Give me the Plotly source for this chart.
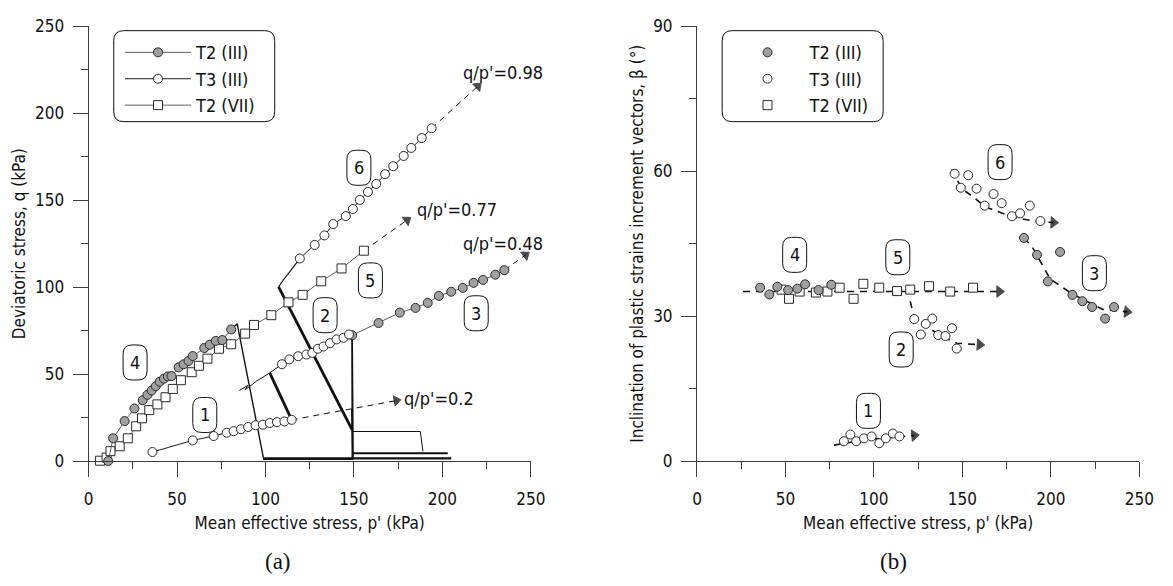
import plotly.graph_objects as go

# ---------------------------------------------------------------------------
# Panel (a): effective stress paths  p' (kPa)  vs  q (kPa)
# ---------------------------------------------------------------------------
# T2 (III) - stage 4 (grey dots)
t2iii_s4_p = [11.1, 13.9, 20.4, 25.9, 30.6, 33.3, 35.7, 38.0, 40.2, 42.6, 44.8,
              46.9, 50.9, 53.7, 56.5, 58.9, 65.4, 68.5, 71.9, 75.6, 80.6]
t2iii_s4_q = [0.0, 13.1, 23.0, 30.2, 35.0, 38.1, 40.6, 43.1, 45.6, 47.4, 48.7,
              48.9, 53.9, 55.7, 57.6, 60.4, 65.0, 66.9, 69.1, 69.6, 75.7]
# T2 (III) - unloading / transfer path between stages 4 and 3
t2iii_link_p = [80.6, 84.0, 99.0, 149.0, 149.0]
t2iii_link_q = [75.7, 79.0, 1.0, 1.0, 72.4]
# T2 (III) - stage 3
t2iii_s3_p = [149.0, 163.9, 175.9, 184.8, 191.7, 198.0, 205.0, 211.5, 217.6,
              223.0, 229.9, 235.0]
t2iii_s3_q = [72.4, 79.4, 85.4, 88.1, 91.0, 95.0, 97.4, 99.6, 102.5, 104.2,
              107.2, 109.8]

# T3 (III) - stage 1
t3iii_s1_p = [36.1, 58.9, 70.7, 78.1, 82.0, 86.1, 90.2, 94.4, 98.5, 102.4,
              106.5, 110.7, 114.8]
t3iii_s1_q = [5.2, 11.9, 14.4, 16.3, 17.2, 18.3, 19.6, 20.6, 20.9, 21.9, 22.4,
              22.8, 23.7]
# T3 (III) - stage 2
t3iii_s2_p = [109.3, 113.5, 118.5, 123.1, 126.5, 129.6, 132.8, 136.5, 140.2,
              144.1, 147.2]
t3iii_s2_q = [55.7, 58.5, 60.3, 61.3, 62.2, 64.6, 65.9, 67.8, 70.0, 70.9, 72.8]
# T3 (III) - stage 6
t3iii_s6_p = [119.4, 127.8, 133.3, 138.3, 145.4, 149.4, 153.3, 157.9, 162.6,
              167.6, 172.2, 178.1, 182.4, 188.3, 193.9]
t3iii_s6_q = [116.5, 124.3, 129.8, 136.3, 140.9, 145.0, 150.2, 154.8, 159.4,
              165.0, 169.6, 175.5, 180.1, 185.8, 191.4]
# T3 (III) - intermediate paths (no measurement markers)
t3iii_thick_a_p = [114.8, 102.4]
t3iii_thick_a_q = [23.7, 50.7]
t3iii_thin_a_p = [85.2, 90.0, 88.5, 95.0, 102.4, 109.3]
t3iii_thin_a_q = [40.6, 43.5, 41.0, 46.0, 50.7, 55.7]
t3iii_drop_p = [147.2, 149.0, 149.5, 148.8, 149.3]
t3iii_drop_q = [72.8, 70.0, 1.0, 30.0, 17.0]
t3iii_base1_p = [99.0, 205.0]
t3iii_base1_q = [1.5, 1.5]
t3iii_base2_p = [149.0, 203.0]
t3iii_base2_q = [4.5, 4.5]
t3iii_base3_p = [149.0, 187.5, 189.0]
t3iii_base3_q = [17.0, 17.0, 5.6]
t3iii_thick_b_p = [149.0, 107.4]
t3iii_thick_b_q = [18.0, 100.2]
t3iii_thin_b_p = [107.4, 110.0, 119.4]
t3iii_thin_b_q = [100.2, 104.0, 116.5]

# T2 (VII) - stages 4 and 5 (squares)
t2vii_p = [6.5, 10.2, 12.4, 17.6, 22.2, 26.9, 30.2, 34.3, 38.9, 43.5, 47.6,
           52.2, 58.3, 62.4, 67.2, 73.7, 80.6, 88.5, 93.5, 103.3, 113.0, 121.0,
           131.5, 143.0, 155.6]
t2vii_q = [0.2, 2.0, 5.7, 8.5, 13.1, 20.0, 24.6, 29.3, 32.6, 36.7, 41.5, 46.5,
           51.1, 54.8, 58.9, 64.6, 67.2, 73.3, 78.3, 83.9, 91.3, 95.6, 103.4,
           110.8, 121.0]

# Stress-ratio trend lines q/p' (arrow tip lies on q = ratio * p')
ratio_values = [0.98, 0.77, 0.48, 0.2]
ratio_labels = ["q/p'=0.98", "q/p'=0.77", "q/p'=0.48", "q/p'=0.2"]
ratio_start_p = [193.9, 155.6, 235.0, 114.8]
ratio_start_q = [191.4, 121.0, 109.8, 23.7]
ratio_tip_p = [220.0, 180.0, 247.0, 174.0]

# ---------------------------------------------------------------------------
# Panel (b): inclination of plastic strain increment vectors, beta (deg)
# ---------------------------------------------------------------------------
b_t2iii_s4_p = [35.7, 40.9, 45.4, 51.5, 56.7, 61.1, 68.7, 75.9]
b_t2iii_s4_b = [35.9, 34.5, 36.1, 35.4, 35.7, 36.6, 35.4, 36.5]
b_t2iii_s3_p = [184.8, 192.2, 198.3, 205.2, 212.2, 217.8, 223.3, 230.7, 235.7]
b_t2iii_s3_b = [46.2, 42.7, 37.2, 43.3, 34.4, 33.1, 31.9, 29.5, 31.9]

b_t3iii_s1_p = [83.0, 86.7, 90.0, 94.4, 98.7, 103.0, 106.7, 110.7, 114.4]
b_t3iii_s1_b = [4.1, 5.5, 4.1, 4.7, 5.1, 3.7, 4.7, 5.7, 5.1]
b_t3iii_s2_p = [122.8, 126.5, 129.3, 133.0, 136.3, 140.4, 144.1, 146.8]
b_t3iii_s2_b = [29.4, 26.2, 28.4, 29.5, 26.1, 25.9, 27.5, 23.3]
b_t3iii_s6_p = [145.6, 149.1, 153.3, 158.0, 162.6, 167.6, 172.2, 178.0, 182.6,
                188.1, 194.1]
b_t3iii_s6_b = [59.5, 56.6, 59.2, 56.4, 52.9, 55.3, 53.4, 50.7, 51.3, 52.9, 49.7]

b_t2vii_p = [47.8, 52.0, 58.0, 67.2, 73.7, 80.6, 88.5, 94.0, 103.0, 113.1,
             120.5, 131.1, 143.1, 156.0]
b_t2vii_b = [35.5, 33.6, 35.1, 34.9, 35.1, 35.9, 33.6, 36.7, 35.9, 35.2, 35.5,
             36.2, 35.1, 35.9]

# Trend arrows of panel (b)
b_trend_45_p = [26.0, 170.9]
b_trend_45_b = [35.1, 35.1]
b_trend_1_p = [77.4, 95.0, 122.8]
b_trend_1_b = [3.3, 4.4, 5.3]
b_trend_2_p = [120.5, 122.8, 129.3, 136.7, 146.9, 159.8]
b_trend_2_b = [33.1, 29.7, 28.1, 26.1, 24.4, 24.1]
b_trend_6_p = [144.0, 149.6, 156.1, 162.6, 171.9, 179.3, 194.1, 201.5]
b_trend_6_b = [60.4, 56.4, 54.7, 52.7, 51.4, 50.4, 49.5, 49.4]
b_trend_3_p = [184.8, 189.4, 199.6, 211.7, 229.3, 243.1]
b_trend_3_b = [46.2, 44.4, 37.7, 34.7, 31.4, 30.9]

# Stage numbers (text, p', value)
stage_tags_a = [("6", 152.8, 168.7), ("4", 26.3, 56.7), ("1", 65.7, 26.5),
                ("2", 133.7, 83.9), ("5", 159.3, 103.9), ("3", 219.1, 85.0)]
stage_tags_b = [("6", 171.3, 61.9), ("4", 55.2, 42.7), ("1", 96.9, 10.4),
                ("2", 115.4, 23.1), ("5", 113.5, 42.2), ("3", 224.6, 38.9)]

# ---------------------------------------------------------------------------
FONT = "Tahoma, 'DejaVu Sans Condensed', 'DejaVu Sans', sans-serif"
INK = "#111111"
AXIS = "#3c3c3c"
GREY = "#a0a0a0"
T2_LINE = "#5e5e5e"
T3_LINE = "#1e1e1e"
W, H = 1173, 586

fig = go.Figure()


def path_trace(x, y, xa, ya, width=1.0, color=INK, dash=None):
    fig.add_trace(go.Scatter(
        x=x, y=y, xaxis=xa, yaxis=ya, mode="lines", showlegend=False,
        hoverinfo="skip", cliponaxis=False,
        line=dict(color=color, width=width, dash=dash)))


def marked_trace(x, y, xa, ya, symbol, fill, name=None, legend=None,
                 lines=True, size=9, line_color=T3_LINE):
    fig.add_trace(go.Scatter(
        x=x, y=y, xaxis=xa, yaxis=ya, name=name,
        mode="lines+markers" if lines else "markers",
        showlegend=legend is not None, legend=legend or "legend",
        cliponaxis=False,
        line=dict(color=line_color, width=1),
        marker=dict(symbol=symbol, size=size, color=fill,
                    line=dict(color="#2a2a2a", width=1))))


def arrow_trace(x, y, xa, ya, width=1.0, dash="6px,5px", head=9):
    sizes = [0] * (len(x) - 1) + [head]
    fig.add_trace(go.Scatter(
        x=x, y=y, xaxis=xa, yaxis=ya, mode="lines+markers",
        showlegend=False, hoverinfo="skip", cliponaxis=False,
        line=dict(color=INK, width=width, dash=dash),
        marker=dict(symbol="triangle-up", size=sizes, color="black",
                    angleref="previous", line=dict(width=1, color="black"))))


# ---- panel (a) -------------------------------------------------------------
path_trace(t3iii_base1_p, t3iii_base1_q, "x", "y", 2.2)
path_trace(t3iii_base2_p, t3iii_base2_q, "x", "y", 2.0)
path_trace(t3iii_base3_p, t3iii_base3_q, "x", "y", 1.0)
path_trace(t3iii_drop_p, t3iii_drop_q, "x", "y", 1.6)
path_trace(t2iii_link_p, t2iii_link_q, "x", "y", 1.4)
path_trace(t3iii_thick_a_p, t3iii_thick_a_q, "x", "y", 2.8)
path_trace(t3iii_thin_a_p, t3iii_thin_a_q, "x", "y", 1.0)
path_trace(t3iii_thick_b_p, t3iii_thick_b_q, "x", "y", 2.8)
path_trace(t3iii_thin_b_p, t3iii_thin_b_q, "x", "y", 1.2)

for p0, q0, r, p1 in zip(ratio_start_p, ratio_start_q, ratio_values, ratio_tip_p):
    arrow_trace([p0, p1], [q0, r * p1], "x", "y", width=1.0, dash="6px,5px", head=9)

marked_trace(t2vii_p, t2vii_q, "x", "y", "square", "white", line_color=T2_LINE)
marked_trace(t2iii_s4_p, t2iii_s4_q, "x", "y", "circle", GREY,
             name="T2 (III)", legend="legend", line_color=T2_LINE)
marked_trace(t2iii_s3_p, t2iii_s3_q, "x", "y", "circle", GREY, line_color=T2_LINE)
marked_trace(t3iii_s1_p, t3iii_s1_q, "x", "y", "circle", "white",
             name="T3 (III)", legend="legend")
marked_trace(t3iii_s2_p, t3iii_s2_q, "x", "y", "circle", "white")
marked_trace(t3iii_s6_p, t3iii_s6_q, "x", "y", "circle", "white")
# legend entry for T2 (VII)
fig.add_trace(go.Scatter(
    x=[None], y=[None], xaxis="x", yaxis="y", name="T2 (VII)",
    mode="lines+markers", legend="legend",
    line=dict(color=T2_LINE, width=1),
    marker=dict(symbol="square", size=9, color="white",
                line=dict(color="#2a2a2a", width=1))))

# ---- panel (b) -------------------------------------------------------------
for px, pb in [(b_trend_45_p, b_trend_45_b), (b_trend_1_p, b_trend_1_b),
               (b_trend_2_p, b_trend_2_b), (b_trend_6_p, b_trend_6_b),
               (b_trend_3_p, b_trend_3_b)]:
    arrow_trace(px, pb, "x2", "y2", width=1.6, dash="7px,6px", head=10)

marked_trace(b_t2vii_p, b_t2vii_b, "x2", "y2", "square", "white", lines=False)
marked_trace(b_t2iii_s4_p, b_t2iii_s4_b, "x2", "y2", "circle", GREY,
             name="T2 (III)", legend="legend2", lines=False)
marked_trace(b_t2iii_s3_p, b_t2iii_s3_b, "x2", "y2", "circle", GREY, lines=False)
marked_trace(b_t3iii_s1_p, b_t3iii_s1_b, "x2", "y2", "circle", "white",
             name="T3 (III)", legend="legend2", lines=False)
marked_trace(b_t3iii_s2_p, b_t3iii_s2_b, "x2", "y2", "circle", "white", lines=False)
marked_trace(b_t3iii_s6_p, b_t3iii_s6_b, "x2", "y2", "circle", "white", lines=False)
fig.add_trace(go.Scatter(
    x=[None], y=[None], xaxis="x2", yaxis="y2", name="T2 (VII)",
    mode="markers", legend="legend2",
    marker=dict(symbol="square", size=9, color="white",
                line=dict(color="#2a2a2a", width=1))))


# ---- rounded boxes ---------------------------------------------------------
def rounded(w, h, r):
    a, b = w / 2, h / 2
    return (f"M{-a + r},{-b} L{a - r},{-b} Q{a},{-b} {a},{-b + r} "
            f"L{a},{b - r} Q{a},{b} {a - r},{b} L{-a + r},{b} "
            f"Q{-a},{b} {-a},{b - r} L{-a},{-b + r} Q{-a},{-b} {-a + r},{-b} Z")


shapes = []
annotations = []
for tags, xr, yr in [(stage_tags_a, "x", "y"), (stage_tags_b, "x2", "y2")]:
    for txt, px, py in tags:
        shapes.append(dict(type="path", xref=xr, yref=yr,
                           xsizemode="pixel", ysizemode="pixel",
                           xanchor=px, yanchor=py, path=rounded(24, 35, 9),
                           line=dict(color=INK, width=1), layer="above"))
        annotations.append(dict(x=px, y=py, xref=xr, yref=yr, text=txt,
                                showarrow=False, xanchor="center",
                                yanchor="middle",
                                font=dict(family=FONT, size=18, color=INK)))

label_pos = [(234.3, 223.3), (208.3, 144.6), (234.4, 125.0), (198.3, 36.1)]
for txt, (px, py) in zip(ratio_labels, label_pos):
    annotations.append(dict(x=px, y=py, xref="x", yref="y", text=txt,
                            showarrow=False, xanchor="center", yanchor="middle",
                            font=dict(family=FONT, size=18, color=INK)))

# legend frames
for cx in (192.5, 811.5):
    shapes.append(dict(type="path", xref="paper", yref="paper",
                       xsizemode="pixel", ysizemode="pixel",
                       xanchor=cx / W, yanchor=1 - 68.5 / H,
                       path=rounded(161, 91, 10),
                       line=dict(color=INK, width=1), layer="above"))

for txt, cx in [("(a)", 278), ("(b)", 904)]:
    annotations.append(dict(x=cx / W, y=1 - 571 / H, xref="paper", yref="paper",
                            text=txt, showarrow=False,
                            xanchor="center", yanchor="middle",
                            font=dict(family="'Liberation Serif', 'Times New Roman', serif",
                                      size=23, color=INK)))


def axis(domain, anchor, rng, dtick, minor, title, standoff, label_gap):
    return dict(domain=domain, anchor=anchor, range=rng, dtick=dtick, tick0=0,
                showline=True, linecolor=AXIS, linewidth=1, mirror=False,
                ticks="outside", ticklen=15, tickwidth=1, tickcolor=AXIS,
                ticklabelstandoff=label_gap,
                minor=dict(ticks="outside", ticklen=7, dtick=minor,
                           tickcolor=AXIS, tickwidth=1),
                showgrid=False, zeroline=False, fixedrange=True,
                tickfont=dict(family=FONT, size=17, color=INK),
                title=dict(text=title, standoff=standoff,
                           font=dict(family=FONT, size=17, color=INK)))


ydom = [119 / H, 569 / H]
fig.update_layout(
    width=W, height=H, margin=dict(l=0, r=0, t=0, b=0),
    paper_bgcolor="white", plot_bgcolor="white",
    font=dict(family=FONT, color=INK),
    xaxis=axis([85 / W, 535 / W], "y", [0, 250], 50, 25,
               "Mean effective stress, p' (kPa)", 8, 8),
    yaxis=axis(ydom, "x", [0, 250], 50, 25, "Deviatoric stress, q (kPa)", 5, 5),
    xaxis2=axis([704 / W, 1154 / W], "y2", [0, 250], 50, 25,
                "Mean effective stress, p' (kPa)", 8, 8),
    yaxis2=axis(ydom, "x2", [0, 90], 30, 15,
                "Inclination of plastic strains increment vectors, \u03b2 (\u00b0)", 5, 5),
    legend=dict(x=117 / W, y=1 - 25 / H, xanchor="left", yanchor="top",
                bgcolor="rgba(0,0,0,0)", borderwidth=0, itemwidth=66,
                font=dict(family=FONT, size=18, color=INK), tracegroupgap=0),
    legend2=dict(x=733 / W, y=1 - 25 / H, xanchor="left", yanchor="top",
                 bgcolor="rgba(0,0,0,0)", borderwidth=0, itemwidth=74,
                 font=dict(family=FONT, size=18, color=INK), tracegroupgap=0),
    shapes=shapes, annotations=annotations,
)

fig.write_html("out.html")
